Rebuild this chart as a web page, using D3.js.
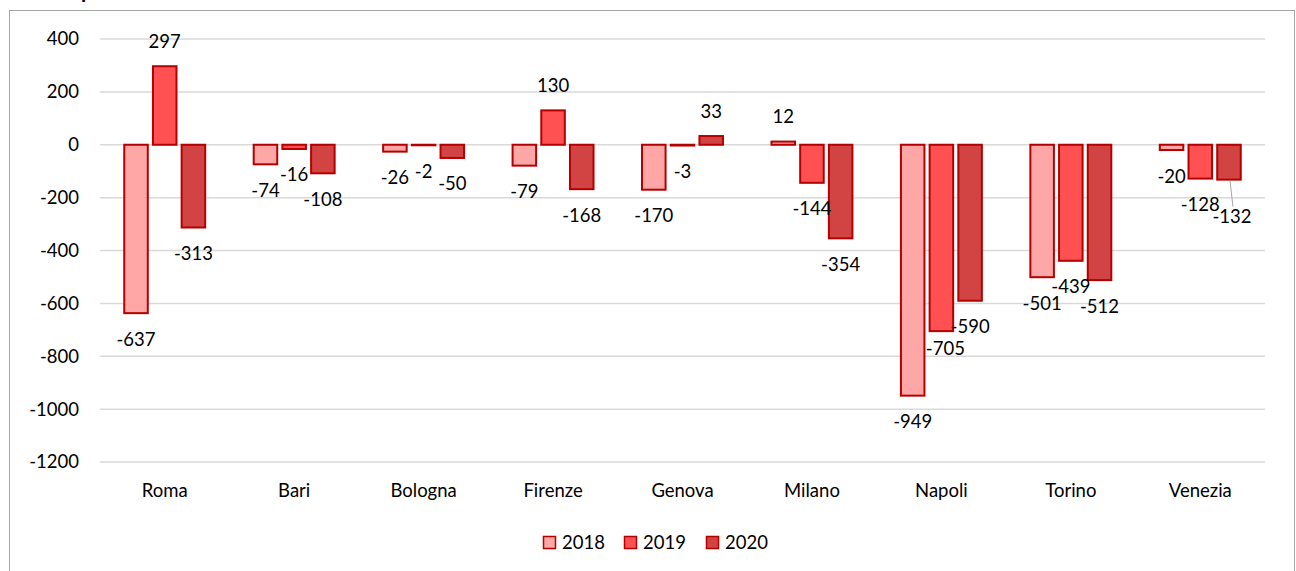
<!DOCTYPE html>
<html>
<head>
<meta charset="utf-8">
<script src="https://cdn.jsdelivr.net/npm/d3@7"></script>
<style>
  body { margin: 0; background: #fff; }
  svg { display: block; font-family: Lato, "Open Sans", sans-serif; }
</style>
</head>
<body>
<svg id="chart" width="1296" height="571"></svg>
<script>
const cities = ["Roma", "Bari", "Bologna", "Firenze", "Genova", "Milano", "Napoli", "Torino", "Venezia"];
const years = ["2018", "2019", "2020"];
const values2018 = [-637, -74, -26, -79, -170, 12, -949, -501, -20];
const values2019 = [297, -16, -2, 130, -3, -144, -705, -439, -128];
const values2020 = [-313, -108, -50, -168, 33, -354, -590, -512, -132];
const yTicks = [400, 200, 0, -200, -400, -600, -800, -1000, -1200];

const fills = { "2018": "#ffa7a7", "2019": "#ff5151", "2020": "#d24343" };
const strokeCol = "#b40000";

const svg = d3.select("#chart");

// outer frame (chart area border, bottom is outside the picture)
svg.append("rect")
    .attr("x", 9.5).attr("y", 10.5)
    .attr("width", 1285).attr("height", 600)
    .attr("fill", "none").attr("stroke", "#a6a6a6").attr("stroke-width", 1);

// clipped title fragment
svg.append("text")
    .attr("x", 81).attr("y", -2)
    .attr("font-size", 21).attr("font-weight", "bold")
    .text("p");

const plotLeft = 100, plotRight = 1265, plotTop = 39, plotBottom = 462;

const y = d3.scaleLinear().domain([-1200, 400]).range([plotBottom, plotTop]);
const x0 = d3.scaleBand().domain(cities).range([plotLeft, plotRight]).padding(0);
const x1 = d3.scaleBand().domain(years).range([0, x0.bandwidth()])
    .paddingInner(0.18).paddingOuter(0.845);

const data = cities.map((c, i) => ({
    city: c,
    vals: [
        { year: "2018", v: values2018[i] },
        { year: "2019", v: values2019[i] },
        { year: "2020", v: values2020[i] }
    ]
}));

// gridlines
svg.append("g").selectAll("line")
    .data(yTicks)
    .enter().append("line")
    .attr("x1", plotLeft).attr("x2", plotRight)
    .attr("y1", d => y(d)).attr("y2", d => y(d))
    .attr("stroke", "#d9d9d9").attr("stroke-width", 1.5);

// y axis labels (plain hyphen minus like the original)
const yAxis = svg.append("g")
    .attr("transform", `translate(${plotLeft},0)`)
    .call(d3.axisLeft(y).tickValues(yTicks).tickSize(0).tickPadding(21).tickFormat(d => String(d)));
yAxis.select(".domain").remove();
yAxis.selectAll("text").attr("font-size", 18.5).attr("fill", "#000").attr("font-family", "Lato, sans-serif");

// x axis labels
const xAxis = svg.append("g")
    .attr("transform", `translate(0,${plotBottom})`)
    .call(d3.axisBottom(x0).tickSize(0));
xAxis.select(".domain").remove();
xAxis.selectAll("text")
    .attr("y", 29).attr("dy", "0.35em")
    .attr("font-size", 18.5).attr("fill", "#000").attr("font-family", "Lato, sans-serif");

// bars
const groups = svg.append("g").selectAll("g")
    .data(data)
    .enter().append("g")
    .attr("transform", d => `translate(${x0(d.city)},0)`);

groups.selectAll("rect")
    .data(d => d.vals)
    .enter().append("rect")
    .attr("x", d => x1(d.year))
    .attr("width", x1.bandwidth())
    .attr("y", d => Math.min(y(d.v), y(0)))
    .attr("height", d => Math.abs(y(d.v) - y(0)))
    .attr("fill", d => fills[d.year])
    .attr("stroke", strokeCol).attr("stroke-width", 2);

// a couple of labels were dragged away from their bars in the original
const nudges = { "Napoli-2019": [4, -9], "Venezia-2020": [3, 11] };

groups.each(function(g) {
    const sel = d3.select(this);
    g.vals.forEach(d => {
        const n = nudges[g.city + "-" + d.year] || [0, 0];
        const cx = x1(d.year) + x1.bandwidth() / 2;
        const ly = d.v >= 0 ? y(d.v) - 25 : y(d.v) + 26;
        if (g.city === "Venezia" && d.year === "2020") {
            sel.append("line")
                .attr("x1", cx + 1).attr("y1", y(d.v) + 1)
                .attr("x2", cx + n[0] + 1).attr("y2", ly + n[1] - 10)
                .attr("stroke", "#a6a6a6").attr("stroke-width", 1);
        }
        sel.append("text")
            .attr("x", cx + n[0])
            .attr("y", ly + n[1])
            .attr("dy", "0.35em")
            .attr("text-anchor", "middle")
            .attr("font-size", 18.5)
            .text(d.v);
    });
});

// legend
const legend = svg.append("g").attr("transform", "translate(543,543)");
const legX = [0, 81, 163];
years.forEach((yr, i) => {
    const g = legend.append("g").attr("transform", `translate(${legX[i]},0)`);
    g.append("rect")
        .attr("x", 0.5).attr("y", -6.5)
        .attr("width", 12).attr("height", 12)
        .attr("fill", fills[yr]).attr("stroke", strokeCol).attr("stroke-width", 1.5);
    g.append("text")
        .attr("x", 19).attr("y", 0).attr("dy", "0.35em")
        .attr("font-size", 18.5)
        .text(yr);
});
</script>
</body>
</html>
